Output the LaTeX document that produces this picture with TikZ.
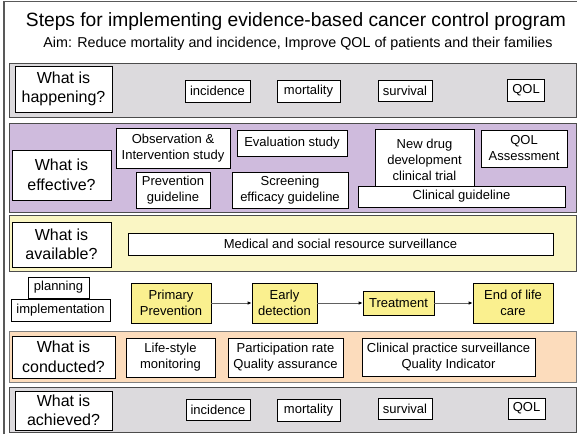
\documentclass[tikz,border=0pt]{standalone}
\usepackage{fontspec}
\setmainfont{Liberation Sans}
\usetikzlibrary{positioning,arrows.meta}

\definecolor{bandgray}{HTML}{DCDADD}
\definecolor{bandpurple}{HTML}{CFBBDD}
\definecolor{bandyellow}{HTML}{FAF6C4}
\definecolor{bandorange}{HTML}{FCDCBC}
\definecolor{stepyellow}{HTML}{FAF08F}

\tikzset{
  band/.style={draw=gray!60!black,line width=1pt,inner sep=0pt,anchor=north west},
  question/.style={draw,line width=0.8pt,fill=white,align=center,inner sep=0pt,
    font=\fontsize{16}{19.5}\selectfont},
  item/.style={draw,line width=0.6pt,fill=white,align=center,inner sep=0pt,
    font=\fontsize{13}{16}\selectfont},
  stepbox/.style={draw,line width=0.6pt,fill=stepyellow,align=center,inner sep=0pt,
    font=\fontsize{13}{16}\selectfont},
  flow/.style={draw=gray!75!black,line width=1pt,-{Latex[length=4pt,width=3.5pt,color=black]}}
}

\begin{document}
\begin{tikzpicture}[x=1pt,y=-1pt]
  \useasboundingbox (0,0) rectangle (577,434);
  \draw[gray!70!black,line width=1.2pt] (4,434) -- (4,1.5) -- (577,1.5);

  % title
  \node (title) at (296,22) {\fontsize{19.2}{21}\selectfont Steps for implementing evidence-based cancer control program};
  \node (aim) at (298,44) {\fontsize{14.3}{16}\selectfont Aim: Reduce mortality and incidence, Improve QOL of patients and their families};

  % bands
  \node[band,fill=bandgray,minimum width=567pt,minimum height=54pt] (happenband) at (9,63) {};
  \node[band,fill=bandpurple,minimum width=567pt,minimum height=89pt] (effectband) at (9,123) {};
  \node[band,fill=bandyellow,minimum width=567pt,minimum height=56pt] (availband) at (9,215) {};
  \node[band,fill=bandorange,draw=gray,minimum width=567pt,minimum height=51pt] (conductband) at (9,331) {};
  \node[band,fill=bandgray,minimum width=567pt,minimum height=45pt] (achieveband) at (9,387) {};

  % what is happening?
  \node[question,minimum width=97pt,minimum height=46pt] (happening) at (63.5,89) {What is\\happening?};
  \node[item,minimum width=65pt,minimum height=22pt] (incidenceA) at (217.5,91) {incidence};
  \node[item,minimum width=63pt,minimum height=22pt] (mortalityA) at (308.5,91) {mortality};
  \node[item,minimum width=54pt,minimum height=21pt] (survivalA) at (405,90.5) {survival};
  \node[item,minimum width=37pt,minimum height=22pt] (qolA) at (526,90) {QOL};

  % what is effective?
  \node[question,minimum width=99pt,minimum height=50pt] (effective) at (61.5,175) {What is\\effective?};
  \node[item,minimum width=114pt,minimum height=40pt] (observation) at (173,148) {Observation \&\\Intervention study};
  \node[item,minimum width=110pt,minimum height=26pt] (evaluation) at (292,143) {Evaluation study};
  \node[item,minimum width=99pt,minimum height=61pt] (newdrug) at (424.5,159.5) {New drug\\development\\clinical trial};
  \node[item,minimum width=86pt,minimum height=37pt] (qolassess) at (524,148.5) {QOL\\Assessment};
  \node[item,minimum width=74pt,minimum height=36pt] (preventguide) at (173,190) {Prevention\\guideline};
  \node[item,minimum width=116pt,minimum height=36pt] (screenguide) at (290,190) {Screening\\efficacy guideline};
  \node[item,minimum width=207pt,minimum height=21pt] (clinguide) at (461.5,196.5) {Clinical guideline};

  % what is available?
  \node[question,minimum width=99pt,minimum height=45pt] (available) at (61.5,244.5) {What is\\available?};
  \node[item,minimum width=425pt,minimum height=22pt] (resource) at (340.5,244) {Medical and social resource surveillance};

  % planning / implementation and care steps
  \node[item,minimum width=61pt,minimum height=21pt] (planning) at (58.5,287.5) {planning};
  \node[item,minimum width=99pt,minimum height=22pt] (implement) at (60.5,310) {implementation};
  \node[stepbox,minimum width=80pt,minimum height=40pt] (primary) at (171,303) {Primary\\Prevention};
  \node[stepbox,minimum width=65pt,minimum height=40pt] (early) at (284.5,303) {Early\\detection};
  \node[stepbox,minimum width=71pt,minimum height=24pt] (treatment) at (398.5,303) {Treatment};
  \node[stepbox,minimum width=80pt,minimum height=40pt] (endlife) at (513,303) {End of life\\care};
  \draw[flow] (primary) -- (early);
  \draw[flow] (early) -- (treatment);
  \draw[flow] (treatment) -- (endlife);

  % what is conducted?
  \node[question,minimum width=103pt,minimum height=42pt] (conducted) at (63.5,357) {What is\\conducted?};
  \node[item,minimum width=89pt,minimum height=39pt] (lifestyle) at (170.5,357.5) {Life-style\\monitoring};
  \node[item,minimum width=115pt,minimum height=39pt] (participation) at (285.5,357.5) {Participation rate\\Quality assurance};
  \node[item,minimum width=173pt,minimum height=38pt] (clinpractice) at (448.5,357) {Clinical practice surveillance\\Quality Indicator};

  % what is achieved?
  \node[question,minimum width=97pt,minimum height=39pt] (achieved) at (63.5,410.5) {What is\\achieved?};
  \node[item,minimum width=64pt,minimum height=21pt] (incidenceB) at (218,409.5) {incidence};
  \node[item,minimum width=63pt,minimum height=22pt] (mortalityB) at (308.5,410) {mortality};
  \node[item,minimum width=54pt,minimum height=21pt] (survivalB) at (405,408.5) {survival};
  \node[item,minimum width=37pt,minimum height=21pt] (qolB) at (526.5,408.5) {QOL};
\end{tikzpicture}
\end{document}
